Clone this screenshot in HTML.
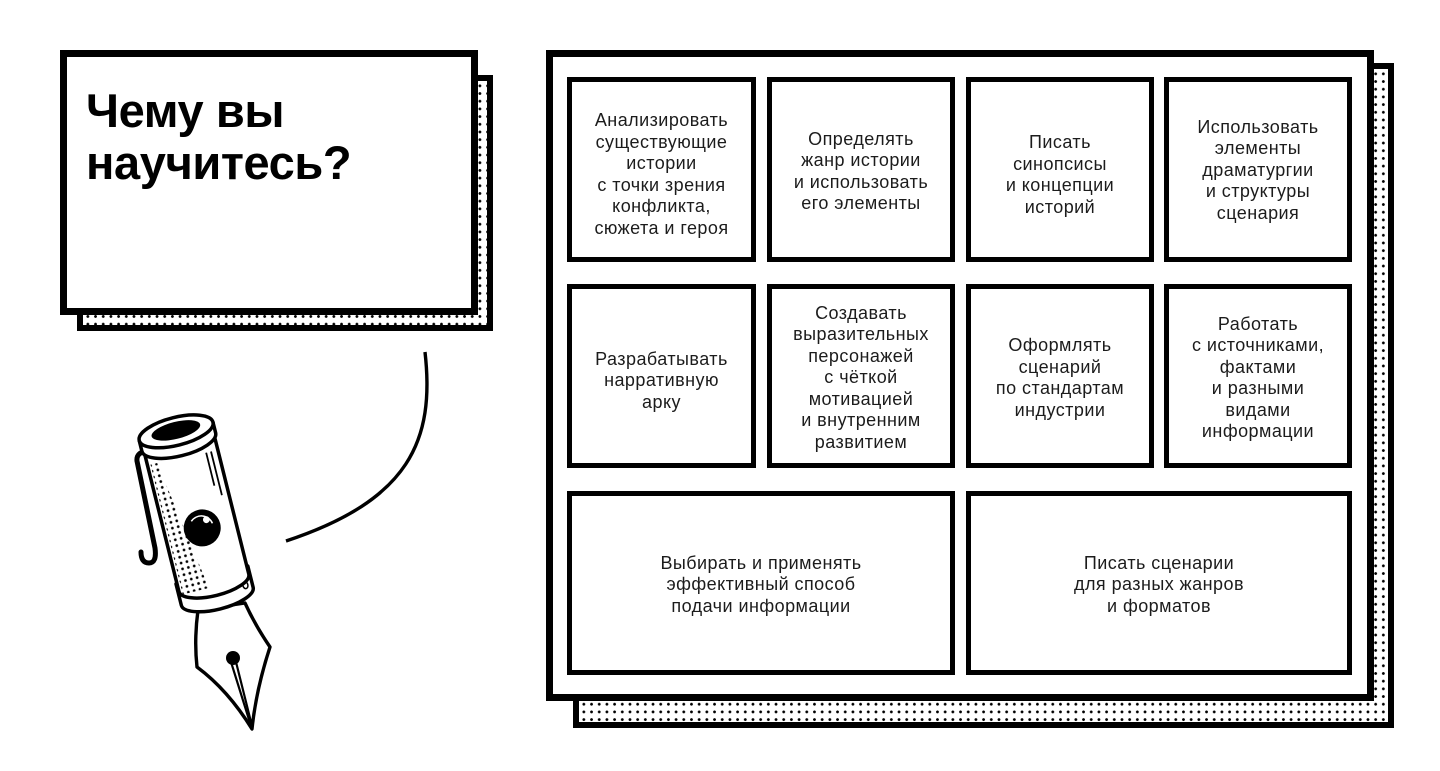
<!DOCTYPE html>
<html><head><meta charset="utf-8"><style>
*{margin:0;padding:0;box-sizing:border-box}
html,body{width:1440px;height:771px;background:#fff;overflow:hidden}
body{position:relative;font-family:"Liberation Sans","Noto Sans CJK SC",sans-serif}
.abs{position:absolute}
.shadow{position:absolute;border:6px solid #000;background-color:#fff;
background-image:radial-gradient(circle,#000 1.2px,transparent 1.6px);background-size:7.7px 7.7px;background-position:1px 1px}
.box{position:absolute;border:7px solid #000;background:#fff}
.cell{position:absolute;border:5px solid #000;background:#fff;display:flex;align-items:center;justify-content:center;text-align:center;font-size:18px;line-height:21.5px;color:#1c1c1c;letter-spacing:0.45px;padding-top:4px}
.title{position:absolute;left:86px;top:85px;font-weight:bold;font-size:47px;line-height:52px;color:#000;letter-spacing:-0.4px}
</style></head><body>

<div class="shadow" style="left:77px;top:75px;width:416px;height:256px"></div>
<div class="box" style="left:60px;top:50px;width:418px;height:265px"></div>
<div class="title">Чему вы<br>научитесь?</div>

<div class="shadow" style="left:573px;top:63px;width:821px;height:665px"></div>
<div class="box" style="left:546px;top:50px;width:828px;height:651px"></div>

<div class="cell" style="left:567px;top:77px;width:189px;height:185px;padding-top:10px">Анализировать<br>существующие<br>истории<br>с точки зрения<br>конфликта,<br>сюжета и героя</div>
<div class="cell" style="left:767px;top:77px;width:188px;height:185px">Определять<br>жанр истории<br>и использовать<br>его элементы</div>
<div class="cell" style="left:966px;top:77px;width:188px;height:185px;padding-top:11px">Писать<br>синопсисы<br>и концепции<br>историй</div>
<div class="cell" style="left:1164px;top:77px;width:188px;height:185px;padding-top:2px">Использовать<br>элементы<br>драматургии<br>и структуры<br>сценария</div>

<div class="cell" style="left:567px;top:284px;width:189px;height:184px;padding-top:10px">Разрабатывать<br>нарративную<br>арку</div>
<div class="cell" style="left:767px;top:284px;width:188px;height:184px">Создавать<br>выразительных<br>персонажей<br>с чёткой<br>мотивацией<br>и внутренним<br>развитием</div>
<div class="cell" style="left:966px;top:284px;width:188px;height:184px">Оформлять<br>сценарий<br>по стандартам<br>индустрии</div>
<div class="cell" style="left:1164px;top:284px;width:188px;height:184px">Работать<br>с источниками,<br>фактами<br>и разными<br>видами<br>информации</div>

<div class="cell" style="left:567px;top:491px;width:388px;height:184px">Выбирать и применять<br>эффективный способ<br>подачи информации</div>
<div class="cell" style="left:966px;top:491px;width:386px;height:184px">Писать сценарии<br>для разных жанров<br>и форматов</div>

<svg class="abs" style="left:0;top:0" width="1440" height="771" viewBox="0 0 1440 771">
<defs>
<pattern id="pd" width="6" height="6" patternUnits="userSpaceOnUse">
<circle cx="3" cy="3" r="1.35" fill="#000"/>
</pattern>
<clipPath id="dc"><polygon points="-33,14 -26,14 -6,148 -33,148"/></clipPath>
</defs>
<path d="M425,352 C435,440 410,500 286,541" fill="none" stroke="#000" stroke-width="3.4"/>

<!-- nib -->
<path d="M198,610 Q194,640 197,667 Q228,690 252,729 Q256,690 270,647 Q255,625 245,603 Z" fill="#fff" stroke="#000" stroke-width="3.4" stroke-linejoin="round"/>
<line x1="231" y1="662" x2="251" y2="726" stroke="#000" stroke-width="2.2"/>
<line x1="236" y1="662" x2="252" y2="726" stroke="#000" stroke-width="2.2"/>
<circle cx="233" cy="658" r="7" fill="#000"/>

<!-- clip -->
<path d="M148,451 Q136,452 137,461 L155,548 Q157,563 149,563 Q141,563 141,552" fill="none" stroke="#000" stroke-width="5" stroke-linecap="round" stroke-linejoin="round"/>

<g transform="translate(179,443) rotate(-14)">
<!-- collar -->
<path d="M-37,136 L-37,158 A37,13 0 0 0 37,158 L37,136 Z" fill="#fff" stroke="#000" stroke-width="3.5" stroke-linejoin="round"/>
<ellipse cx="30" cy="154" rx="2.5" ry="3.5" fill="none" stroke="#000" stroke-width="1.5"/>
<!-- body -->
<path d="M-36,0 L-36,144 A36,13 0 0 0 36,144 L36,0 Z" fill="#fff" stroke="#000" stroke-width="3.5" stroke-linejoin="round"/>
<rect x="-33" y="14" width="32" height="136" fill="url(#pd)" clip-path="url(#dc)"/>
<line x1="24" y1="16" x2="24" y2="50" stroke="#000" stroke-width="1.8"/>
<line x1="29" y1="16" x2="29" y2="61" stroke="#000" stroke-width="1.8"/>
<!-- eye -->
<circle cx="2" cy="88" r="18.5" fill="#000"/>
<path d="M-7,79 A12,12 0 0 1 13,86" fill="none" stroke="#fff" stroke-width="1.5"/>
<circle cx="8" cy="81" r="3.4" fill="#fff"/>
<!-- rim -->
<path d="M-38,-12 L-38,-1 A38,14 0 0 0 38,-1 L38,-12 Z" fill="#fff" stroke="#000" stroke-width="3.5" stroke-linejoin="round"/>
<ellipse cx="0" cy="-12" rx="38" ry="14" fill="#fff" stroke="#000" stroke-width="3.5"/>
<ellipse cx="0" cy="-13" rx="25" ry="8.5" fill="#000"/>
</g>
</svg>
</body></html>
